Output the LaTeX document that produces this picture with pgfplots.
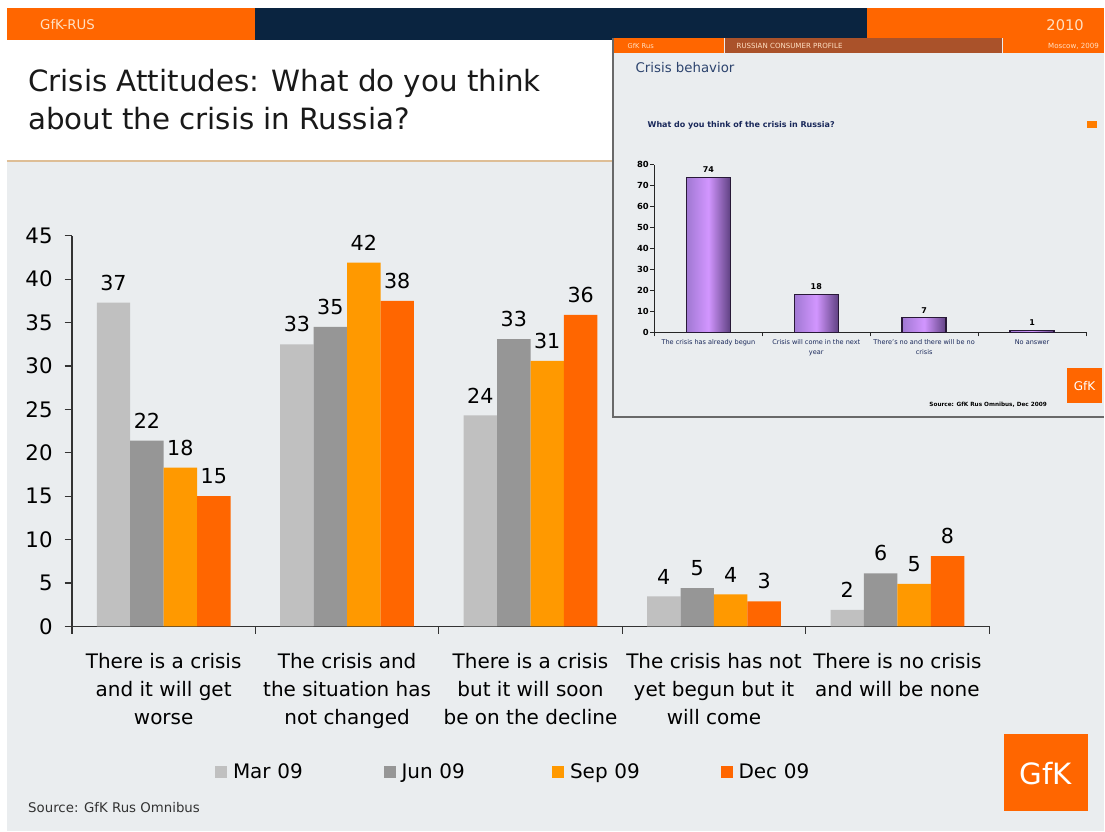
\documentclass[border=0pt]{standalone}
\usepackage{pgfplots}
\pgfplotsset{compat=1.18}
\usepackage{pgfplotstable}
\usepackage{fontspec}
\setmainfont{DejaVu Sans}
\definecolor{bg}{RGB}{234,237,239}
\definecolor{gorange}{RGB}{255,102,0}
\definecolor{navy}{RGB}{10,36,64}
\definecolor{cmar}{RGB}{192,192,192}
\definecolor{cjun}{RGB}{150,150,150}
\definecolor{csep}{RGB}{255,153,0}
\definecolor{cdec}{RGB}{255,102,0}
\definecolor{brownbar}{RGB}{170,82,42}
\definecolor{insettitle}{RGB}{45,68,110}
\definecolor{insetq}{RGB}{25,40,90}
\definecolor{pale}{RGB}{255,224,195}
\definecolor{tanline}{RGB}{222,190,150}
\definecolor{frame}{RGB}{105,105,105}
\definecolor{pl}{RGB}{160,120,210}
\definecolor{pm}{RGB}{210,150,255}
\definecolor{pr}{RGB}{95,65,130}
\definecolor{pdraw}{RGB}{40,25,55}

\pgfplotstableread{
x y lab
0 37.3 37
1 32.5 33
2 24.3 24
3 3.45 4
4 1.9 2
}\tmar
\pgfplotstableread{
x y lab
0 21.4 22
1 34.5 35
2 33.1 33
3 4.4 5
4 6.1 6
}\tjun
\pgfplotstableread{
x y lab
0 18.3 18
1 41.9 42
2 30.6 31
3 3.7 4
4 4.9 5
}\tsep
\pgfplotstableread{
x y lab
0 15.0 15
1 37.5 38
2 35.9 36
3 2.9 3
4 8.1 8
}\tdec
\pgfplotstableread{
x y lab
0 74 74
1 18 18
2 7 7
3 1 1
}\tinset

\begin{document}
\begin{tikzpicture}
\begin{scope}[x=0.75pt,y=-0.75pt]
\fill[white] (0,0) rectangle (1105,832);
\fill[bg] (7,40) rectangle (1105,832);
\fill[white] (7,40) rectangle (613,160);
\draw[tanline, line width=1.2pt] (7,161) -- (613,161);
\fill[gorange] (7,8) rectangle (255,40);
\fill[navy] (255,8) rectangle (868,40);
\fill[gorange] (868,8) rectangle (1105,40);
\node[anchor=west, text=pale, font=\fontsize{10}{12}\selectfont, inner sep=0pt] at (40,25) {GfK-RUS};
\node[anchor=east, text=pale, font=\fontsize{11}{13}\selectfont, inner sep=0pt] at (1085,25) {2010};
\node[anchor=base west, font=\fontsize{22}{26}\selectfont, inner sep=0pt, text=black!90] at (28,92) {Crisis Attitudes: What do you think};
\node[anchor=base west, font=\fontsize{22}{26}\selectfont, inner sep=0pt, text=black!90] at (28,130) {about the crisis in Russia?};
\node[anchor=west, font=\fontsize{10}{12}\selectfont, inner sep=0pt, text=black!80] at (28,808) {Source: GfK Rus Omnibus};
\fill[gorange] (1005,735) rectangle (1089,812);
\node[text=white, font=\fontsize{22}{26}\selectfont, inner sep=0pt] at (1047,774) {GfK};
% inset panel
\fill[bg] (614,38) rectangle (1105,417);
\fill[gorange] (614,38) rectangle (725,53);
\fill[brownbar] (726,38) rectangle (1003,53);
\fill[gorange] (1004,38) rectangle (1105,53);
\draw[frame, line width=1.5pt] (614,38) -- (614,417) -- (1105,417);
\node[anchor=west, text=pale, font=\fontsize{5}{6}\selectfont, inner sep=0pt] at (628,46) {GfK Rus};
\node[anchor=west, text=pale, font=\fontsize{5.3}{6}\selectfont, inner sep=0pt] at (737,46) {RUSSIAN CONSUMER PROFILE};
\node[anchor=east, text=pale, font=\fontsize{5.3}{6}\selectfont, inner sep=0pt] at (1100,46) {Moscow, 2009};
\node[anchor=west, text=insettitle, font=\fontsize{10}{12}\selectfont, inner sep=0pt] at (636,68) {Crisis behavior};
\node[anchor=west, text=insetq, font=\bfseries\fontsize{6}{7}\selectfont, inner sep=0pt] at (648,125) {What do you think of the crisis in Russia?};
\fill[gorange!85!yellow] (1088,121) rectangle (1098,128);
\node[font=\bfseries\fontsize{4.3}{5}\selectfont, inner sep=0pt] at (989,405) {Source: GfK Rus Omnibus, Dec 2009};
\fill[gorange] (1068,368) rectangle (1103,403);
\node[text=white, font=\fontsize{9}{10}\selectfont, inner sep=0pt] at (1085.5,386) {GfK};
\coordinate (mainorig) at (72,627);
\coordinate (insetorig) at (655,332.7);
\end{scope}

\begin{axis}[
  at={(mainorig)}, anchor=south west, scale only axis,
  width=688.5pt, height=293.25pt,
  xmin=-0.5, xmax=4.5, ymin=0, ymax=45,
  axis x line=bottom, axis y line=left,
  axis line style={-, line width=0.9pt, color=black!80},
  tick style={line width=0.9pt, color=black!80},
  tick align=outside, major tick length=5.5pt,
  ybar=0pt, bar width=25.1pt,
  ytick={0,5,...,45},
  /pgf/number format/assume math mode=true,
  yticklabel style={font=\fontsize{16}{18}\selectfont, anchor=east, inner sep=0pt, xshift=-8.8pt},
  xtick={-0.5,0.5,...,4.5}, xticklabels={},
  extra x ticks={0,1,2,3,4},
  extra x tick labels={{There is a crisis\\and it will get\\worse},{The crisis and\\the situation has\\not changed},{There is a crisis\\but it will soon\\be on the decline},{The crisis has not\\yet begun but it\\will come},{There is no crisis\\and will be none}},
  extra x tick style={major tick length=0pt, xticklabel style={font=\fontsize{15}{21}\selectfont, align=center, anchor=north, inner sep=0pt, yshift=-20pt}},
  nodes near coords, point meta=explicit symbolic,
  every node near coord/.append style={font=\fontsize{15.5}{18}\selectfont, text=black, anchor=south, inner sep=0pt, yshift=9pt},
  legend style={at={(rel axis cs:0.156,-0.373)}, anchor=west, draw=none, fill=none, inner sep=0pt, outer sep=0pt, font=\fontsize{15}{18}\selectfont, nodes={inner sep=0pt, text width=113pt, align=left}, /tikz/every even column/.append style={column sep=0pt}},
  legend columns=4, legend cell align=left,
  legend image code/.code={\fill[#1] (0pt,-4.5pt) rectangle (9pt,4.5pt); \path (13.5pt,0pt);},
]
\addplot[fill=cmar, draw=none] table[x=x,y=y,meta=lab] {\tmar};
\addplot[fill=cjun, draw=none] table[x=x,y=y,meta=lab] {\tjun};
\addplot[fill=csep, draw=none] table[x=x,y=y,meta=lab] {\tsep};
\addplot[fill=cdec, draw=none] table[x=x,y=y,meta=lab] {\tdec};
\legend{Mar 09, Jun 09, Sep 09, Dec 09}
\end{axis}

\begin{axis}[
  at={(insetorig)}, anchor=south west, scale only axis,
  width=324pt, height=125.8pt,
  xmin=-0.5, xmax=3.5, ymin=0, ymax=80,
  axis x line=bottom, axis y line=left,
  axis line style={-, line width=0.9pt, color=black!85},
  tick style={line width=0.7pt, color=black!85},
  tick align=outside, major tick length=3pt,
  ytick={0,10,...,80},
  /pgf/number format/assume math mode=true,
  yticklabel style={font=\bfseries\fontsize{6.3}{7}\selectfont, anchor=east, inner sep=0pt, xshift=-1pt},
  xtick={-0.5,0.5,...,3.5}, xticklabels={},
  extra x ticks={0,1,2,3},
  extra x tick labels={{The crisis has already begun},{Crisis will come in the next\\year},{There's no and there will be no\\crisis},{No answer}},
  extra x tick style={major tick length=0pt, xticklabel style={font=\fontsize{4.9}{7.3}\selectfont, text=insetq, align=center, anchor=north, inner sep=0pt, yshift=-5pt}},
  ybar, bar width=33pt, bar shift=0pt,
  nodes near coords, point meta=explicit symbolic,
  every node near coord/.append style={font=\bfseries\fontsize{6}{7}\selectfont, text=black, anchor=south, inner sep=0pt, yshift=3pt},
  inbar/.style={draw=pdraw, line width=1.1pt, left color=pl, right color=pr, middle color=pm},
]
\addplot[inbar] table[x=x,y=y,meta=lab, skip coords between index={1}{4}] {\tinset};
\addplot[inbar] table[x=x,y=y,meta=lab, skip coords between index={0}{1}, skip coords between index={2}{4}] {\tinset};
\addplot[inbar] table[x=x,y=y,meta=lab, skip coords between index={0}{2}, skip coords between index={3}{4}] {\tinset};
\addplot[inbar] table[x=x,y=y,meta=lab, skip coords between index={0}{3}] {\tinset};
\end{axis}
\end{tikzpicture}
\end{document}
